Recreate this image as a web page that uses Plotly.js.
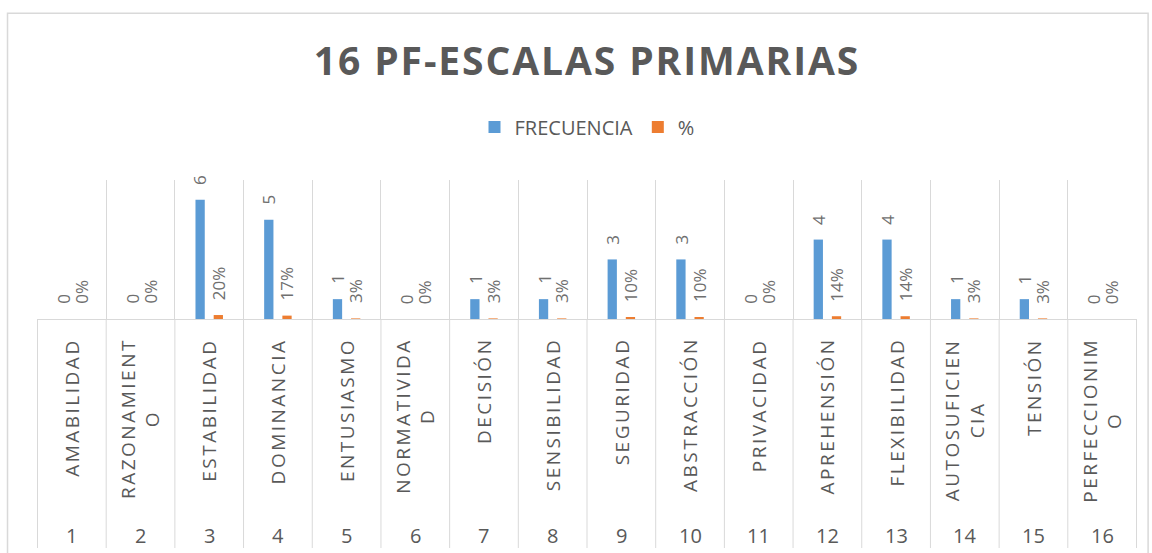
<!DOCTYPE html>
<html>
<head>
<meta charset="utf-8">
<script src="https://cdn.plot.ly/plotly-3.0.1.min.js"></script>
<style>
  html, body { margin: 0; padding: 0; background: #ffffff; }
  #chart { width: 1152px; height: 553px; }
  #chart .gtitle { letter-spacing: 1.9px; }
</style>
</head>
<body>
<div id="chart"></div>
<script>
// ---- data ----
const groupNumbers = ['1','2','3','4','5','6','7','8','9','10','11','12','13','14','15','16'];
const scaleNames = [
  'AMABILIDAD', 'RAZONAMIENT<br>O', 'ESTABILIDAD', 'DOMINANCIA', 'ENTUSIASMO',
  'NORMATIVIDA<br>D', 'DECISIÓN', 'SENSIBILIDAD', 'SEGURIDAD', 'ABSTRACCIÓN',
  'PRIVACIDAD', 'APREHENSIÓN', 'FLEXIBILIDAD', 'AUTOSUFICIEN<br>CIA', 'TENSIÓN',
  'PERFECCIONIM<br>O'
];
const frecuencia = [0, 0, 6, 5, 1, 0, 1, 1, 3, 3, 0, 4, 4, 1, 1, 0];
const porcentaje = [0, 0, 0.20, 0.17, 0.03, 0, 0.03, 0.03, 0.10, 0.10, 0, 0.14, 0.14, 0.03, 0.03, 0];
const seriesNames = ['FRECUENCIA', '%'];
const chartTitle = '16 PF-ESCALAS PRIMARIAS';

const BLUE = '#5b9bd5';
const ORANGE = '#ed7d31';
const TXT = '#595959';
const GRID = '#d9d9d9';
const NAME_SPACING = 2.5;   // letter spacing of the category names (px)

// plot area height in px, used to express offsets below the baseline in paper units
const PLOT_H = 139;
const toPaperY = px => -px / PLOT_H;

const traces = [
  { type: 'bar', name: seriesNames[0], x: scaleNames, y: frecuencia,
    marker: { color: BLUE }, hoverinfo: 'skip' },
  { type: 'bar', name: seriesNames[1], x: scaleNames, y: porcentaje,
    marker: { color: ORANGE }, hoverinfo: 'skip' }
];

const annotations = [];
// first category level: rotated, centred multi-line names (indices 0..15)
scaleNames.forEach((name, i) => {
  const longest = Math.max(...name.split('<br>').map(s => s.length));
  annotations.push({ xref: 'x', yref: 'paper', x: i,
    y: toPaperY(17 + longest * NAME_SPACING / 2),
    text: name, textangle: -90, align: 'center', showarrow: false,
    xanchor: 'center', yanchor: 'top',
    font: { family: 'Open Sans', size: 19, color: TXT } });
});
// second category level: the scale numbers
groupNumbers.forEach((g, i) => {
  annotations.push({ xref: 'x', yref: 'paper', x: i, y: toPaperY(216), text: g,
    showarrow: false, xanchor: 'center', yanchor: 'middle',
    font: { family: 'Open Sans', size: 20, color: TXT } });
});
// rotated data labels, placed from the data values
const labelFont = { family: 'Open Sans', size: 17, color: '#6f6f6f' };
frecuencia.forEach((v, i) => {
  annotations.push({ xref: 'x', yref: 'y', x: i, y: v, text: String(v),
    textangle: -90, showarrow: false, xanchor: 'center', yanchor: 'bottom',
    xshift: -9, yshift: 13, font: labelFont });
});
porcentaje.forEach((v, i) => {
  annotations.push({ xref: 'x', yref: 'y', x: i, y: v, text: Math.round(v * 100) + '%',
    textangle: -90, showarrow: false, xanchor: 'center', yanchor: 'bottom',
    xshift: 9, yshift: 13, font: labelFont });
});

// category dividers running through the label area
const shapes = [];
for (let i = 0; i <= scaleNames.length; i++) {
  shapes.push({ type: 'line', xref: 'x', yref: 'paper', x0: i - 0.5, x1: i - 0.5,
    y0: 0, y1: toPaperY(229), line: { color: GRID, width: 1 }, layer: 'below' });
}
// outer chart border
shapes.push({ type: 'rect', xref: 'paper', yref: 'paper', layer: 'below',
  x0: -0.0268, x1: 1.0101, y0: -1.75, y1: 2.2,
  line: { color: GRID, width: 1.5 }, fillcolor: 'rgba(0,0,0,0)' });

const layout = {
  width: 1152, height: 553,
  margin: { l: 37, r: 15, t: 180, b: 234, pad: 0 },
  paper_bgcolor: '#ffffff', plot_bgcolor: '#ffffff',
  font: { family: 'Open Sans', color: TXT },
  title: {
    text: '<b>' + chartTitle + '</b>',
    font: { family: 'Open Sans', size: 39, color: TXT },
    xref: 'paper', x: 0.5, xanchor: 'center',
    yref: 'container', y: 1 - 61 / 553, yanchor: 'middle'
  },
  showlegend: true,
  legend: {
    orientation: 'h', xref: 'paper', x: 0.5, xanchor: 'center',
    yref: 'container', y: 1 - 127 / 553, yanchor: 'middle',
    font: { family: 'Open Sans', size: 20, color: TXT },
    traceorder: 'normal'
  },
  barmode: 'group', bargap: 0.47, bargroupgap: 0.49,
  xaxis: {
    type: 'category',
    showticklabels: false,
    tickson: 'boundaries',
    showgrid: true, gridcolor: GRID, gridwidth: 1,
    showline: true, linecolor: GRID, linewidth: 1,
    ticks: '', zeroline: false, fixedrange: true
  },
  yaxis: { visible: false, range: [0, 7], fixedrange: true, showgrid: false, zeroline: false },
  annotations: annotations,
  shapes: shapes
};

function spaceNames(gd) {
  gd.querySelectorAll('.annotation').forEach(a => {
    const idx = +a.getAttribute('data-index');
    if (idx < scaleNames.length) {
      const t = a.querySelector('text');
      if (t) t.style.letterSpacing = NAME_SPACING + 'px';
    }
  });
}

const gdEl = document.getElementById('chart');
Plotly.newPlot(gdEl, traces, layout, { staticPlot: true, displayModeBar: false })
  .then(spaceNames);
spaceNames(gdEl);
</script>
</body>
</html>
